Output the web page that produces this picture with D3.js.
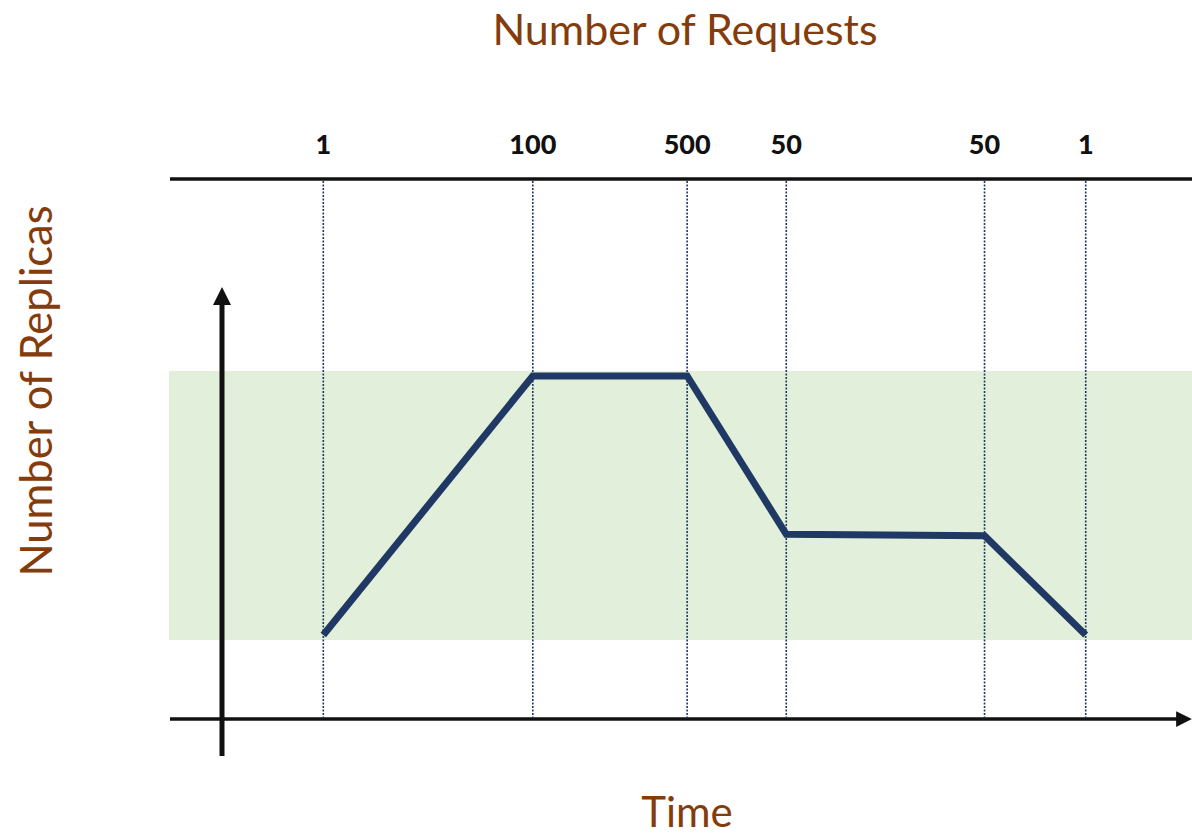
<!DOCTYPE html>
<html>
<head>
<meta charset="utf-8">
<script src="https://cdn.jsdelivr.net/npm/d3@7"></script>
<style>
  html, body { margin: 0; padding: 0; background: #fff; }
  svg { display: block; }
</style>
</head>
<body>
<div id="chart"></div>
<script>
// chart data
const requestLabels = ["1", "100", "500", "50", "50", "1"];
const timeSteps = [15, 35.5, 50.6, 60.3, 79.7, 89.6];   // position on time axis (0-100)
const replicas = [1, 10, 10, 4.5, 4.45, 1];
const minReplicas = 1;
const maxReplicas = 10;

const width = 1192, height = 835;
const brown = "#843c0c";
const navy = "#203864";
const font = "Lato, 'Open Sans', sans-serif";

const svg = d3.select("#chart").append("svg")
    .attr("width", width)
    .attr("height", height);

// scales
const x = d3.scaleLinear().domain([0, 100]).range([170, 1192]);
const y = d3.scaleLinear().domain([1, 10]).range([635, 376]);

const topY = 179;
const axisY = 719;

// min / max band
svg.append("rect")
    .attr("x", 169)
    .attr("y", y(maxReplicas) - 5)
    .attr("width", width - 169)
    .attr("height", y(minReplicas) - y(maxReplicas) + 10)
    .attr("fill", "#e2efda");

// arrow markers
const defs = svg.append("defs");
defs.append("marker")
    .attr("id", "arrowUp")
    .attr("viewBox", "0 0 10 10")
    .attr("refX", 5).attr("refY", 5)
    .attr("markerWidth", 3.6).attr("markerHeight", 3.6)
    .attr("markerUnits", "strokeWidth")
    .attr("orient", "auto")
    .append("path")
    .attr("d", "M0,0 L10,5 L0,10 Z")
    .attr("fill", "#111");

defs.append("marker")
    .attr("id", "arrowRight")
    .attr("viewBox", "0 0 10 10")
    .attr("refX", 5).attr("refY", 5)
    .attr("markerWidth", 4.5).attr("markerHeight", 4.5)
    .attr("markerUnits", "strokeWidth")
    .attr("orient", "auto")
    .append("path")
    .attr("d", "M0,0 L10,5 L0,10 Z")
    .attr("fill", "#111");

// top request line
svg.append("line")
    .attr("x1", 170).attr("x2", width)
    .attr("y1", topY).attr("y2", topY)
    .attr("stroke", "#111")
    .attr("stroke-width", 3.5);

// time axis
svg.append("line")
    .attr("x1", 170).attr("x2", width - 8)
    .attr("y1", axisY).attr("y2", axisY)
    .attr("stroke", "#111")
    .attr("stroke-width", 3.5)
    .attr("marker-end", "url(#arrowRight)");

// replicas axis
svg.append("line")
    .attr("x1", 222).attr("x2", 222)
    .attr("y1", 756).attr("y2", 296)
    .attr("stroke", "#111")
    .attr("stroke-width", 5)
    .attr("marker-end", "url(#arrowUp)");

// dotted guides
svg.selectAll("line.guide")
    .data(timeSteps)
    .join("line")
    .attr("class", "guide")
    .attr("x1", d => x(d)).attr("x2", d => x(d))
    .attr("y1", topY + 2).attr("y2", axisY - 1)
    .attr("stroke", navy)
    .attr("stroke-width", 1.6)
    .attr("stroke-dasharray", "2,1.5");

// request labels
svg.selectAll("text.req")
    .data(timeSteps)
    .join("text")
    .attr("class", "req")
    .attr("x", d => x(d))
    .attr("y", 154)
    .attr("text-anchor", "middle")
    .attr("font-family", font)
    .attr("font-weight", 900)
    .attr("font-size", 27)
    .attr("fill", "#111")
    .text((d, i) => requestLabels[i]);

// replicas line
const line = d3.line()
    .x((d, i) => x(timeSteps[i]))
    .y(d => y(d));

svg.append("path")
    .datum(replicas)
    .attr("d", line)
    .attr("fill", "none")
    .attr("stroke", navy)
    .attr("stroke-width", 7)
    .attr("stroke-linejoin", "miter");

// titles
svg.append("text")
    .attr("x", 685).attr("y", 45)
    .attr("text-anchor", "middle")
    .attr("font-family", font)
    .attr("font-size", 43)
    .attr("fill", brown)
    .text("Number of Requests");

svg.append("text")
    .attr("transform", "translate(52,391) rotate(-90)")
    .attr("text-anchor", "middle")
    .attr("font-family", font)
    .attr("font-size", 43.5)
    .attr("fill", brown)
    .text("Number of Replicas");

svg.append("text")
    .attr("x", 687).attr("y", 827)
    .attr("text-anchor", "middle")
    .attr("font-family", font)
    .attr("font-size", 42)
    .attr("fill", brown)
    .text("Time");
</script>
</body>
</html>
